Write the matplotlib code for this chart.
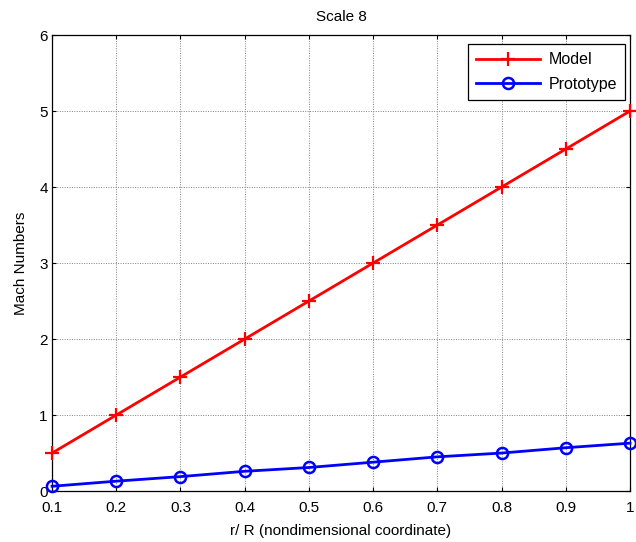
import matplotlib
matplotlib.use("Agg")
import matplotlib.pyplot as plt

plt.rcParams['font.family'] = ['Liberation Sans', 'DejaVu Sans']

r_over_R = [0.1, 0.2, 0.3, 0.4, 0.5, 0.6, 0.7, 0.8, 0.9, 1.0]
model = [0.5, 1.0, 1.5, 2.0, 2.5, 3.0, 3.5, 4.0, 4.5, 5.0]
prototype = [0.063, 0.13, 0.19, 0.26, 0.31, 0.38, 0.45, 0.50, 0.57, 0.63]
xticks = [0.1, 0.2, 0.3, 0.4, 0.5, 0.6, 0.7, 0.8, 0.9, 1.0]
xticklabels = ['0.1', '0.2', '0.3', '0.4', '0.5', '0.6', '0.7', '0.8', '0.9', '1']
yticks = [0, 1, 2, 3, 4, 5, 6]

fig = plt.figure(figsize=(6.36, 5.42), dpi=100)
ax = fig.add_axes([0.0818, 0.094, 0.9088, 0.8414])

ax.plot(r_over_R, model, color='#ff0000', lw=2, marker='+', ms=10, mew=1.6,
        label='Model', clip_on=False, zorder=3)
ax.plot(r_over_R, prototype, color='#0000ff', lw=2, marker='o', ms=8, mew=1.8,
        mfc='none', label='Prototype', clip_on=False, zorder=3)

ax.set_xlim(0.1, 1.0)
ax.set_ylim(0, 6)
ax.set_xticks(xticks)
ax.set_xticklabels(xticklabels)
ax.set_yticks(yticks)
ax.tick_params(axis='x', pad=7)
ax.tick_params(axis='y', pad=3)
ax.tick_params(direction='in', top=True, right=True, labelsize=11, length=3, width=0.8)
ax.grid(True, color='#808080', linestyle=(0, (1, 1.5)), linewidth=0.7)
for s in ax.spines.values():
    s.set_linewidth(0.9)

ax.set_title('Scale 8', fontsize=11, pad=10)
ax.set_xlabel('r/ R (nondimensional coordinate)', fontsize=11, labelpad=7)
ax.set_ylabel('Mach Numbers', fontsize=11, labelpad=8)

leg = ax.legend(loc='upper right', bbox_to_anchor=(0.991, 0.98), borderaxespad=0,
                fontsize=11.5, fancybox=False, edgecolor='black', framealpha=1,
                handlelength=4.0, borderpad=0.5, labelspacing=0.6, handletextpad=0.5)
leg.get_frame().set_linewidth(0.9)

fig.savefig('out.png', dpi=100)
